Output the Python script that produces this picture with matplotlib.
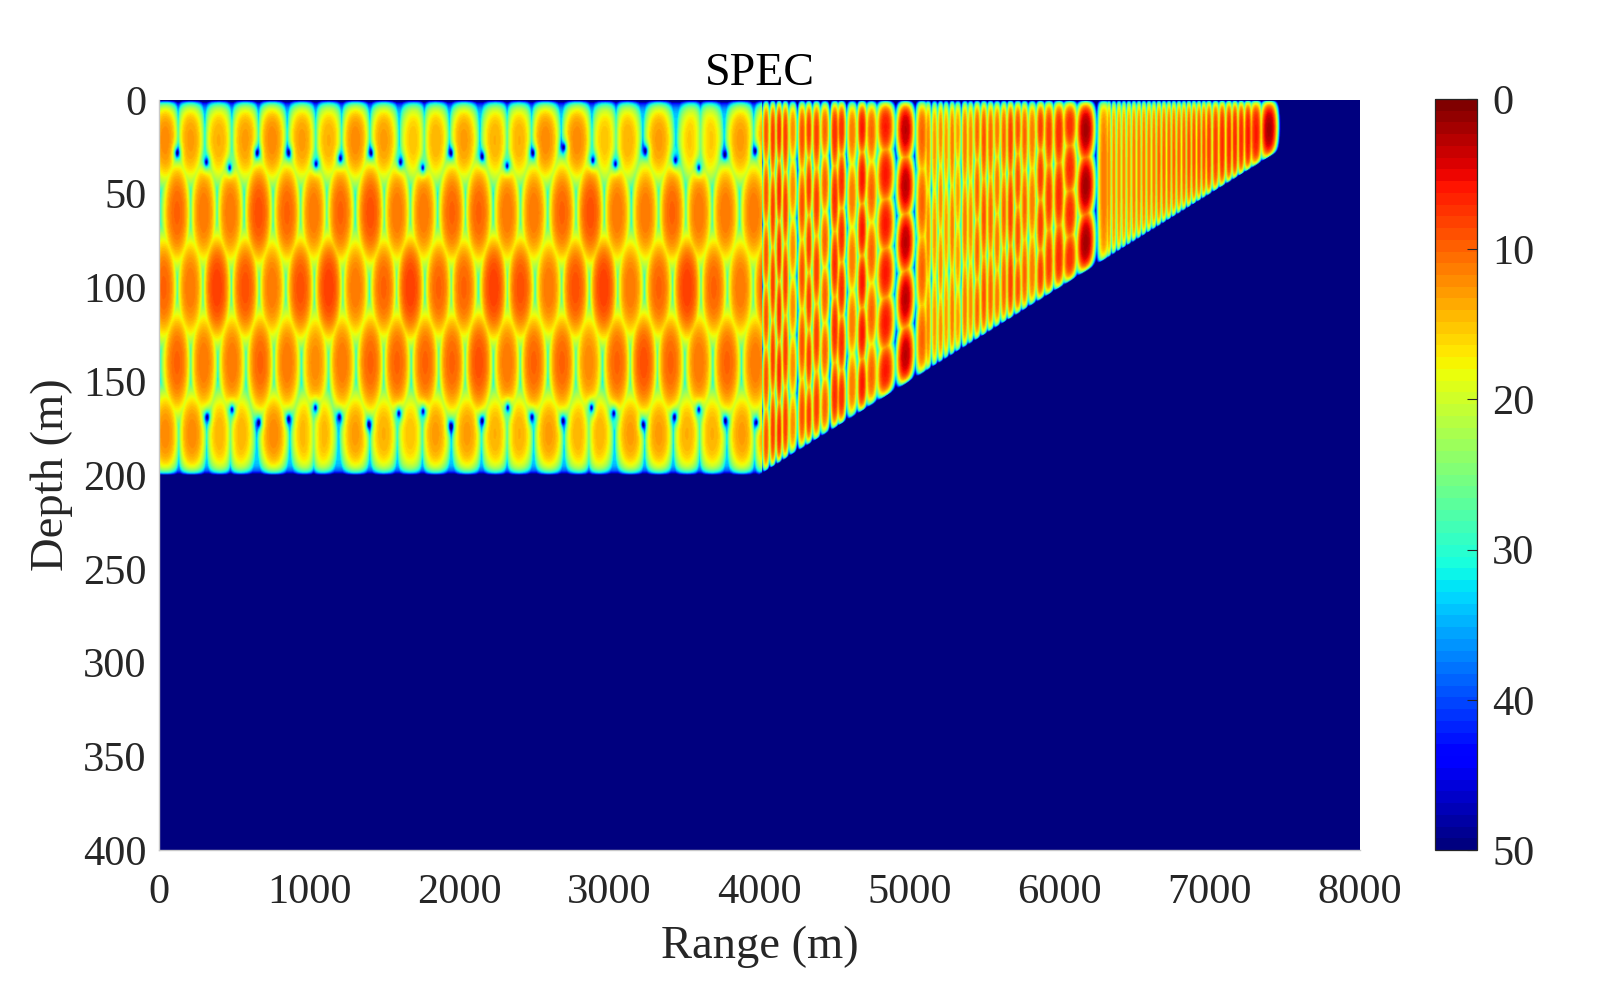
import numpy as np
import matplotlib
matplotlib.use("Agg")
import matplotlib.pyplot as plt

plt.rcParams['font.family'] = ['Liberation Serif', 'DejaVu Serif']

# Range-depth lobes of the flat-bottom part
BAND_Z = [21, 60, 100, 140, 178]
BAND1_R = [40,207,396,573,751,951,1129,1307,1496,1696,1840,2030,2240,2396,2573,2784,2973,3118,3329,3551,3662,3873,4050]
BAND1_DB = [12,13,14,13,12,13,14,12,13,15,14,13,14,14,12,12,15,14,13,15,15,13,13]
BAND2_R = [118,296,473,662,851,1029,1207,1407,1584,1762,1951,2129,2318,2496,2684,2873,3051,3240,3418,3596,3773,3962,4150]
BAND2_DB = [10,11,11,9,10,11,10,9,11,11,10,10,11,11,10,9,11,11,10,11,11,11,11]
BAND3_R = [29,207,384,573,751,940,1129,1307,1496,1673,1862,2029,2229,2407,2596,2773,2962,3140,3329,3518,3696,3873,4050]
BAND3_DB = [10,11,8,9,11,9,8,11,10,8,10,10,8,9,11,9,8,11,10,8,10,11,9]
BAND4_R = [118,296,484,673,851,1040,1218,1407,1584,1773,1951,2129,2318,2496,2684,2862,3051,3229,3407,3596,3784,3973,4150]
BAND4_DB = [10,11,11,10,11,12,11,10,10,10,10,9,11,10,10,12,10,9,10,11,10,11,11]
BAND5_R = [40,218,407,540,762,973,1084,1307,1496,1673,1840,2051,2240,2396,2596,2796,2929,3140,3329,3518,3684,3884,4050]
BAND5_DB = [12,12,14,14,12,14,14,13,14,15,13,13,14,14,13,14,14,13,13,14,14,13,13]

# Dark spots between the bands
NULL_R = [118,313,469,651,862,1044,1207,1411,1607,1756,1944,2151,2318,2491,2696,2889,3040,3240,3440,3596,3769,3973,
          318,484,662,862,1040,1200,1396,1596,1758,1944,2151,2322,2484,2691,2880,3029,3224,3433,3596,3773,3980]
NULL_Z = [28,33,36,28,28,34,31,28,33,36,28,30,35,28,25,32,34,27,32,36,29,27,
          169,165,172,170,164,169,173,167,166,174,171,164,169,171,164,167,173,169,165,171,172]

# Stripes over the slope
SLOPE_A_R = [4044,4089,4131,4173,4222,4284,4329,4380,4436,4502,4547,4618,4684,4747,4840]
SLOPE_A_DB = [9,8,7,8,12,9,8,8,10,7,7,11,6,10,6]
WIDE_A_R = [4973]
WIDE_A_DB = [3]
SLOPE_B_R = [5084,5124,5167,5207,5244,5284,5322,5369,5407,5451,5496,5540,5584,5629,5673,5722,5767,5818,5873,5929,5996,6069]
SLOPE_B_DB = [10,12,13,12,13,11,13,11,12,10,9,10,11,10,8,9,10,11,8,8,7,7]
WIDE_B_R = [6174]
WIDE_B_DB = [2]
SLOPE_C_R = [6296,6329,6362,6396,6429,6462,6496,6529,6562,6596,6629,6662,6696,6729,6762,6796,6829,6862,6896,6929,6962,6996,7040,7084,7129,7169,7211,7256,7309]
SLOPE_C_DB = [11,12,12,12,12,12,11,11,11,11,11,10,10,10,10,10,10,9,9,9,9,8,8,7,7,7,7,6,6]
WIDE_C_R = [7396]
WIDE_C_DB = [2]

X_TICKS = [0,1000,2000,3000,4000,5000,6000,7000,8000]
Y_TICKS = [0,50,100,150,200,250,300,350,400]
CB_TICKS = [0,10,20,30,40,50]

r = np.arange(0, 8000.1, 5.0, dtype=np.float32)
z = np.arange(0, 400.1, 0.5, dtype=np.float32)
R, Z = np.meshgrid(r, z)
FLAT_D, SHELF_R, END_R = 200.0, 4000.0, 8000.0
D = np.where(R < SHELF_R, FLAT_D, FLAT_D * (END_R - R) / (END_R - SHELF_R))
POW = 1.4

# flat part: elliptical lobes per band; neighbours in a band partly cancel along their shared edge
flat = np.full(R.shape, 33.0, dtype=np.float32)
bands = [(BAND1_R, BAND1_DB, 26.0, 104.0), (BAND2_R, BAND2_DB, 31.0, 100.0), (BAND3_R, BAND3_DB, 31.0, 100.0),
         (BAND4_R, BAND4_DB, 31.0, 100.0), (BAND5_R, BAND5_DB, 26.0, 104.0)]
for zc, (rs, dbs, wz, wr) in zip(BAND_Z, bands):
    qz = ((Z - zc) / wz) ** 2
    best = np.full(R.shape, 120.0, dtype=np.float32)
    second = np.full(R.shape, 120.0, dtype=np.float32)
    for rc, db in zip(rs, dbs):
        t = db + 14 * (((R - rc) / wr) ** 2 + qz) ** POW
        second = np.where(t < best, best, np.minimum(second, t))
        best = np.minimum(best, t)
    amp = 10 ** (-best / 20) - 0.6 * 10 ** (-second / 20)
    flat = np.minimum(flat, -20 * np.log10(np.maximum(amp, 1e-4)))
for rc, zc in zip(NULL_R, NULL_Z):
    d2 = ((R - rc) / 30.0) ** 2 + ((Z - zc) / 5.0) ** 2
    flat += -20 * np.log10(np.clip(1 - 0.97 * np.exp(-d2), 1e-3, 1))

# slope: stripes, with depth lobes
def add_stripes(field, centres, levels, rise, nbands, adepth, hw):
    k = (adepth / rise) ** (1 / POW)
    for rc, db, n, h in zip(centres, levels, nbands, hw):
        spacing = np.maximum(D, 1) / n
        dz = np.abs((Z % spacing) - spacing / 2) / (spacing / 2)
        t = db + rise * (((R - rc) / h) ** 2 + k * dz ** 2) ** POW
        field[:] = np.minimum(field, t)

def half_widths(all_r):
    a = np.asarray(all_r, float)
    d = np.diff(a)
    left = np.r_[d[0], d]
    right = np.r_[d, d[-1]]
    return (left + right) / 4

slope_r = SLOPE_A_R + WIDE_A_R + SLOPE_B_R + WIDE_B_R + SLOPE_C_R + WIDE_C_R
hw = dict(zip(slope_r, half_widths(slope_r)))
hw[7396] = 62.0
hw[6174] = 68.0
hw[4973] = 66.0

slope = np.full(R.shape, 80.0, dtype=np.float32)
na = [6 if i % 2 == 0 else 5 for i in range(len(SLOPE_A_R))]
add_stripes(slope, SLOPE_A_R, SLOPE_A_DB, 15, na, 7, [hw[v] for v in SLOPE_A_R])
add_stripes(slope, WIDE_A_R, WIDE_A_DB, 26, [5], 10, [hw[v] for v in WIDE_A_R])
nb = [3 if i % 3 else 4 for i in range(len(SLOPE_B_R))]
add_stripes(slope, SLOPE_B_R, SLOPE_B_DB, 13, nb, 5, [hw[v] for v in SLOPE_B_R])
add_stripes(slope, WIDE_B_R, WIDE_B_DB, 26, [3], 9, [hw[v] for v in WIDE_B_R])
add_stripes(slope, SLOPE_C_R, SLOPE_C_DB, 13, [1] * len(SLOPE_C_R), 3, [hw[v] for v in SLOPE_C_R])
add_stripes(slope, WIDE_C_R, WIDE_C_DB, 26, [1], 6, [hw[v] for v in WIDE_C_R])

field = np.where(R < 4018, flat, slope)
# surface and bottom fade
eps = 1e-3
top = np.tanh(np.maximum(Z, eps) / 5.5)
bot = np.tanh(np.maximum(D - Z, eps) / 4.5)
field = field - 20 * np.log10(top) - 20 * np.log10(bot)
field = np.where((Z >= D) | (R > 7470), 50, field)
field = np.clip(field, 0, 50)

cmap = plt.get_cmap('jet_r', 64)
ink = '#262626'
W, H = 1600, 1000
fig = plt.figure(figsize=(W / 100, H / 100), dpi=100, facecolor='white')
ax = fig.add_axes([159 / W, 1 - 850 / H, (1360 - 159) / W, 750 / H])
im = ax.imshow(field, cmap=cmap, vmin=0, vmax=50, aspect='auto', origin='upper',
               extent=[0, 8000, 400, 0], interpolation='bilinear')
ax.set_xticks(X_TICKS)
ax.set_yticks(Y_TICKS)
ax.tick_params(length=0, colors=ink, labelsize=30.5, top=False, right=False)
ax.tick_params(axis='x', pad=17)
ax.tick_params(axis='y', pad=9)
ax.set_xlabel('Range (m)', fontsize=33.5, color=ink, labelpad=10)
ax.set_ylabel('Depth (m)', fontsize=33.5, color=ink, labelpad=7.5)
ax.set_title('SPEC', fontsize=33, color='black', pad=10.5)
for s in ['top', 'right']:
    ax.spines[s].set_visible(False)
for s in ['left', 'bottom']:
    ax.spines[s].set_linewidth(1.0)
    ax.spines[s].set_color('#c8c8c8')

cax = fig.add_axes([1435 / W, 1 - 850 / H, 42 / W, 751 / H])
cb = fig.colorbar(im, cax=cax)
cb.set_ticks(CB_TICKS)
cb.ax.invert_yaxis()
cb.ax.tick_params(direction='in', length=7, width=0.8, colors=ink, labelsize=30.5, pad=11)
cb.outline.set_linewidth(0.9)
cb.outline.set_edgecolor(ink)

fig.savefig('out.png', dpi=100)
